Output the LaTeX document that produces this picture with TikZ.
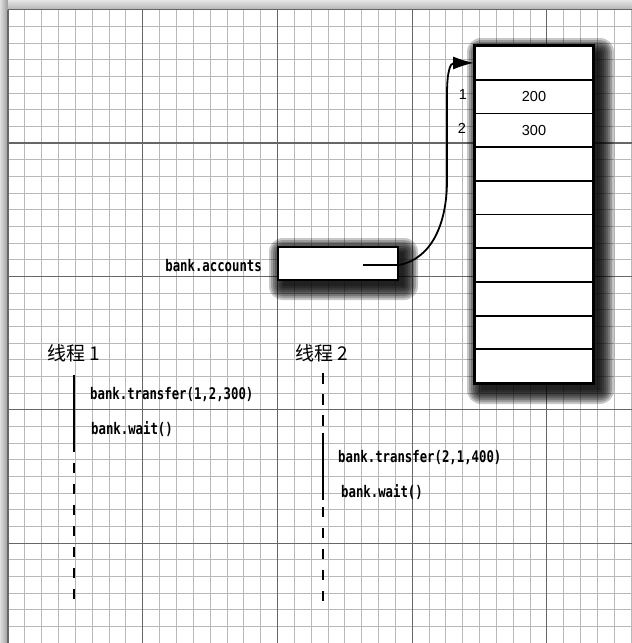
\documentclass[tikz,border=0pt]{standalone}
\usepackage{fontspec}
\setmainfont{Liberation Sans}
\newfontfamily\cjk{Noto Sans CJK SC}
\newfontfamily\codefont[FakeStretch=0.77]{DejaVu Sans Mono}
\usetikzlibrary{arrows.meta,calc}
\begin{document}
\begin{tikzpicture}[x=1pt,y=-1pt,
  fine/.style={gray!55,line width=0.8pt},
  major/.style={black!60,line width=1.2pt},
  cell/.style={draw,line width=1.8pt,fill=white,minimum width=118pt,minimum height=33.7pt,inner sep=0pt},
  val/.style={font=\fontsize{14.5}{16}\selectfont,inner sep=0pt},
  code/.style={font=\codefont\bfseries\fontsize{16}{18}\selectfont,inner sep=0pt},
  thlabel/.style={font=\cjk\fontsize{19}{21}\selectfont,inner sep=0pt,anchor=west},
  thr/.style={line width=2.4pt},
  shadowlayer/.style={fill=black,opacity=0.22}
]
\useasboundingbox (0,0) rectangle (632,643);
\fill[white] (0,0) rectangle (632,643);
% scan edge shading
\shade[left color=gray!25,right color=gray!80] (0,0) rectangle (8,643);
\shade[top color=gray!20,bottom color=gray!60] (8,0) rectangle (632,9.7);
% grid
\foreach \k in {0,...,37} \draw[fine] ({8+16.84*\k},9.7) -- ({8+16.84*\k},643);
\foreach \k in {0,...,38} \draw[fine] (8,{9.7+16.67*\k}) -- (632,{9.7+16.67*\k});
\foreach \k in {0,8,16,24,32} \draw[major] ({8+16.84*\k},9.7) -- ({8+16.84*\k},643);
\foreach \k in {0,8,16,24,32} \draw[major] (8,{9.7+16.67*\k}) -- (632,{9.7+16.67*\k});

% shadows
\foreach \r in {14,12,10,8,6,4,2,0}
  \fill[shadowlayer,rounded corners=\r pt] ({481-\r},{52-\r}) rectangle ({600+\r},{390+\r});
\foreach \r in {14,12,10,8,6,4,2,0}
  \fill[shadowlayer,rounded corners=\r pt] ({283-\r},{252-\r}) rectangle ({404+\r},{286+\r});

% array
\foreach \i in {0,...,9}
  \node[cell] (c\i) at (534,{62.85+33.7*\i}) {};
\draw[line width=2.4pt] (c0.north west) rectangle (c9.south east);
\node[val] (v1) at (c1.center) {200};
\node[val] (v2) at (c2.center) {300};
\node[val] (i1) at (463,95) {1};
\node[val] (i2) at (462,128) {2};

% reference box
\node[draw,line width=1.8pt,fill=white,minimum width=120pt,minimum height=33pt,inner sep=0pt] (acc) at (338,263.5) {};
\node[code,anchor=east] (accl) at (262,266) {bank.accounts};
\coordinate (ptr) at (363,265);
\draw[line width=1.8pt,-{Latex[length=21pt,width=13pt]}] (ptr) -- (acc.east |- ptr)
  .. controls +(32,-6) and +(0,45) .. (447,180) -- (447,95)
  .. controls (447,72) and (450,63) .. (c0.west);

% threads
\node[thlabel] (th1) at (47,353) {线程 1};
\node[thlabel] (th2) at (295,353) {线程 2};

\coordinate (t1s) at (74,375);
\coordinate (t1m) at (74,452);
\coordinate (t1d) at (74,463);
\coordinate (t1e) at (74,603);
\draw[thr] (t1s) -- (t1m);
\draw[thr,dash pattern=on 10pt off 11pt] (t1d) -- (t1e);

\coordinate (t2a) at (323,373);
\coordinate (t2b) at (323,427);
\coordinate (t2c) at (323,433);
\coordinate (t2d) at (323,500);
\coordinate (t2e) at (323,507);
\coordinate (t2f) at (323,603);
\draw[line width=2pt,dash pattern=on 11pt off 10pt] (t2a) -- (t2b);
\draw[thr] (t2c) -- (t2d);
\draw[line width=2pt,dash pattern=on 10pt off 11pt] (t2e) -- (t2f);

\node[code,anchor=west] (s1) at (90,395) {bank.transfer(1,2,300)};
\node[code,anchor=west] (s2) at (91,429) {bank.wait()};
\node[code,anchor=west] (s3) at (338,458) {bank.transfer(2,1,400)};
\node[code,anchor=west] (s4) at (341,492) {bank.wait()};
\end{tikzpicture}
\end{document}
